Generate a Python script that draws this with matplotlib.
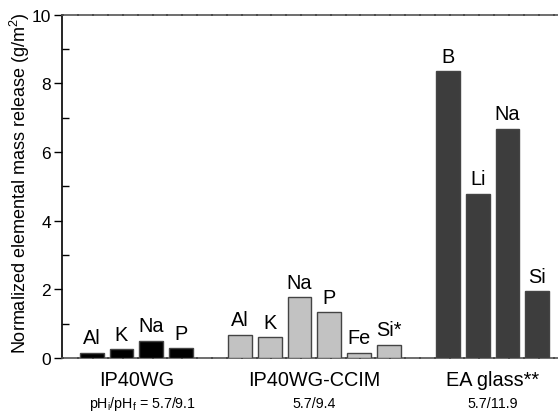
import matplotlib
matplotlib.use("Agg")
import matplotlib.pyplot as plt
import numpy as np

plt.rcParams['font.family'] = ['Liberation Sans', 'DejaVu Sans']

# --- data ---
groups = ['IP40WG', 'IP40WG-CCIM', 'EA glass**']
ph_labels = ['pH$_\\mathregular{i}$/pH$_\\mathregular{f}$ = 5.7/9.1', '5.7/9.4', '5.7/11.9']
elements_wg = ['Al', 'K', 'Na', 'P']
values_wg = [0.15, 0.25, 0.50, 0.29]
elements_ccim = ['Al', 'K', 'Na', 'P', 'Fe', 'Si*']
values_ccim = [0.67, 0.60, 1.77, 1.33, 0.15, 0.38]
elements_ea = ['B', 'Li', 'Na', 'Si']
values_ea = [8.35, 4.78, 6.67, 1.95]

series = [
    (elements_wg, values_wg, '#000000'),
    (elements_ccim, values_ccim, '#c2c2c2'),
    (elements_ea, values_ea, '#3d3d3d'),
]

fig = plt.figure(figsize=(5.58, 4.14), dpi=100)
ax = fig.add_axes([62 / 558, 55 / 414, 496 / 558, 343.5 / 414])

start = 0
for gi, (els, vals, col) in enumerate(series):
    x = np.arange(start, start + len(els))
    ax.bar(x, vals, width=0.8, color=col, edgecolor='#444444', linewidth=1.0, zorder=3)
    for xi, v, lab in zip(x, vals, els):
        ax.text(xi, v + 0.16, lab, ha='center', va='bottom', fontsize=14.3)
    center = x.mean()
    ax.text(center, -0.62, groups[gi], ha='center', va='center', fontsize=14.3, clip_on=False)
    ax.text(center + (0.2 if gi == 0 else 0), -1.3, ph_labels[gi], ha='center', va='center',
            fontsize=10.3, clip_on=False)
    start += len(els) + 1

ax.set_xlim(-1, -1 + 496 / 29.7)
ax.set_ylim(0, 10)
ax.set_yticks([0, 2, 4, 6, 8, 10])
ax.set_yticks([1, 3, 5, 7, 9], minor=True)
ax.tick_params(axis='y', which='major', direction='out', length=6, width=1, labelsize=12.5, pad=2)
ax.tick_params(axis='y', which='minor', direction='in', length=5, width=1)
ax.set_xticks(np.arange(-0.95, 16, 0.5), minor=True)
ax.set_xticks([])
ax.tick_params(axis='x', which='minor', direction='inout', length=2, width=1.3,
               top=True, bottom=True, color='#111111')

ax.spines['right'].set_visible(False)
ax.spines['left'].set_linewidth(1.2)
for s in ['bottom', 'top']:
    ax.spines[s].set_color('#555555')
    ax.spines[s].set_linewidth(1.2)

ax.set_ylabel('Normalized elemental mass release (g/m$^\\mathregular{2}$)', fontsize=13)
ax.yaxis.label.set_va('center')
ax.yaxis.set_label_coords(-0.085, 0.512)

fig.savefig('out.png', dpi=100)
